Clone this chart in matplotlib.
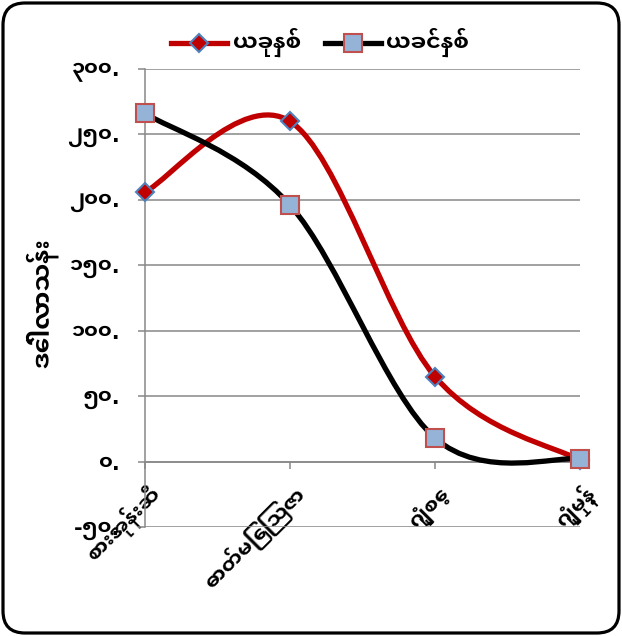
import matplotlib
matplotlib.use("Agg")
import matplotlib.pyplot as plt
from matplotlib.path import Path
from matplotlib.patches import PathPatch, FancyBboxPatch
from matplotlib.lines import Line2D
from matplotlib.transforms import ScaledTranslation, IdentityTransform

plt.rcParams["font.family"] = ["Noto Sans Myanmar UI", "DejaVu Sans"]
plt.rcParams["font.weight"] = "bold"

categories = ["စားအုန်းဆီ", "ဓာတ်မြေဩဇာ", "ဂျုံစေ့", "ဂျုံမှုန့်"]
this_year = [206, 260, 65, 1]
last_year = [266, 196, 18, 2]
series_names = ["ယခုနှစ်", "ယခင်နှစ်"]
y_ticks = [-50, 0, 50, 100, 150, 200, 250, 300]
y_tick_labels = ["-၅၀.", "၀.", "၅၀.", "၁၀၀.", "၁၅၀.", "၂၀၀.", "၂၅၀.", "၃၀၀."]
y_title = "ဒေါ်လာသန်း"

RED = "#C00000"
BLACK = "#000000"
GRID = "#888888"
DIAMOND_EDGE = "#4F81BD"
SQUARE_FACE = "#95B3D7"
SQUARE_EDGE = "#C0504D"


def smooth_path(xs, ys):
    # excel style smoothed line, catmull-rom segments as cubic beziers
    pts = list(zip(xs, ys))
    n = len(pts)
    verts = [pts[0]]
    codes = [Path.MOVETO]
    for i in range(n - 1):
        p0 = pts[max(i - 1, 0)]
        p1 = pts[i]
        p2 = pts[i + 1]
        p3 = pts[min(i + 2, n - 1)]
        c1 = (p1[0] + (p2[0] - p0[0]) / 6, p1[1] + (p2[1] - p0[1]) / 6)
        c2 = (p2[0] - (p3[0] - p1[0]) / 6, p2[1] - (p3[1] - p1[1]) / 6)
        verts += [c1, c2, p2]
        codes += [Path.CURVE4] * 3
    return Path(verts, codes)


W, H = 622, 636
fig = plt.figure(figsize=(W / 100, H / 100), dpi=100, facecolor="white")

ax = fig.add_axes([145 / W, 1 - 527 / H, 435 / W, 458 / H])
ax.set_xlim(0, len(categories) - 1)
ax.set_ylim(-50, 300)

x = list(range(len(categories)))

red_curve = PathPatch(smooth_path(x, this_year), fill=False, edgecolor=RED,
                      lw=3.8, capstyle="round", joinstyle="round", zorder=3)
ax.add_patch(red_curve)
ax.plot(x, this_year, ls="none", marker="D", ms=9.5, mfc=RED,
        mec=DIAMOND_EDGE, mew=1.5, clip_on=False, zorder=4)

black_curve = PathPatch(smooth_path(x, last_year), fill=False, edgecolor=BLACK,
                        lw=3.8, capstyle="round", joinstyle="round", zorder=5)
ax.add_patch(black_curve)
ax.plot(x, last_year, ls="none", marker="s", ms=13, mfc=SQUARE_FACE,
        mec=SQUARE_EDGE, mew=1.5, clip_on=False, zorder=6)

# axes styling
for side in ["top", "right"]:
    ax.spines[side].set_visible(False)
ax.spines["left"].set_color(GRID)
ax.spines["left"].set_linewidth(1.1)
ax.spines["bottom"].set_position(("data", 0))
ax.spines["bottom"].set_color(GRID)
ax.spines["bottom"].set_linewidth(1.1)

ax.set_yticks(y_ticks)
ax.set_yticklabels(y_tick_labels, fontsize=15)
ax.yaxis.grid(True, color=GRID, lw=1.1)
ax.set_axisbelow(True)
ax.tick_params(axis="y", direction="out", length=5, width=1.1, color=GRID, pad=13)

ax.set_xticks(x)
ax.set_xticklabels(categories, fontsize=15)
ax.tick_params(axis="x", direction="out", length=5, width=1.1, color=GRID, pad=16)
shift = ScaledTranslation(12 / 100, 0, fig.dpi_scale_trans)
for lbl in ax.get_xticklabels():
    lbl.set_rotation(45)
    lbl.set_rotation_mode("anchor")
    lbl.set_ha("right")
    lbl.set_va("center")
    lbl.set_transform(lbl.get_transform() + shift)

ax.set_ylabel(y_title, fontsize=18, fontweight="bold")
ax.yaxis.set_label_coords(-0.2, 0.49)

handles = [
    Line2D([], [], color=RED, lw=3.8, marker="D", ms=9.5, mfc=RED,
           mec=DIAMOND_EDGE, mew=1.5),
    Line2D([], [], color=BLACK, lw=3.8, marker="s", ms=13, mfc=SQUARE_FACE,
           mec=SQUARE_EDGE, mew=1.5),
]
fig.legend(handles, series_names, loc="center", bbox_to_anchor=(0.515, 1 - 42 / H),
           ncol=2, frameon=False, fontsize=16, handlelength=2.5,
           handletextpad=0.25, columnspacing=1.1, numpoints=1)

# rounded chart border
border = FancyBboxPatch((3, 3), W - 6, H - 6,
                        boxstyle="round,pad=0,rounding_size=22",
                        transform=IdentityTransform(), fill=False,
                        edgecolor="black", lw=2.3)
fig.add_artist(border)

fig.savefig("out.png", dpi=100, facecolor="white")
